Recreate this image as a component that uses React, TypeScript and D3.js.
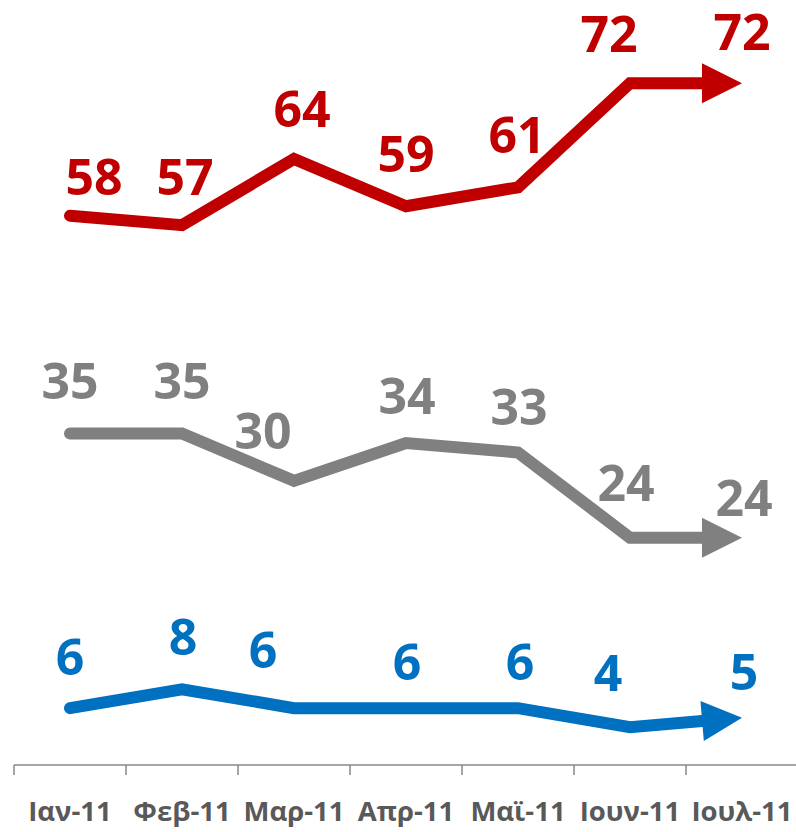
import React, { useMemo } from 'react';
import { scaleBand, scaleLinear, line } from 'd3';

const months = ['Ιαν-11', 'Φεβ-11', 'Μαρ-11', 'Απρ-11', 'Μαϊ-11', 'Ιουν-11', 'Ιουλ-11'];
const redValues = [58, 57, 64, 59, 61, 72, 72];
const greyValues = [35, 35, 30, 34, 33, 24, 24];
const blueValues = [6, 8, 6, 6, 6, 4, 5];

// label nudges (dx, dy of the baseline from the point)
const redNudge = [[24, -21], [3, -30], [8, -32], [0, -34], [-1, -34], [-21, -31], [0, -33]];
const greyNudge = [[0, -35], [0, -35], [-31, -32], [1, -29], [1, -27], [-4, -37], [2, -22]];
const blueNudge = [[0, -33], [1, -34], [-31, -40], [1, -28], [2, -28], [-22, -36], [2, -28]];

const series = [
    { name: 'red', values: redValues, nudge: redNudge, color: '#C00000' },
    { name: 'grey', values: greyValues, nudge: greyNudge, color: '#808080' },
    { name: 'blue', values: blueValues, nudge: blueNudge, color: '#0070C0' },
];

const width = 796;
const height = 832;
const font = '"Open Sans", sans-serif';

const App: React.FC = () => {
    const { x, y } = useMemo(() => {
        const x = scaleBand<string>().domain(months).range([14, 14 + 112 * months.length]);
        const y = scaleLinear().domain([0, 80]).range([765, 7.4]);
        return { x, y };
    }, []);

    const cx = (m: string) => (x(m) ?? 0) + x.bandwidth() / 2;
    const lineGen = line<[number, number]>();
    const arrowLen = 40;
    const arrowHalf = 20;

    return (
        <div style={{ position: 'absolute', left: 0, top: 0 }}>
            <svg width={width} height={height} style={{ display: 'block' }}>
                <rect width={width} height={height} fill="#fff" />

                {/* axis */}
                <g stroke="#898989" strokeWidth={1.5}>
                    <line x1={14} x2={width} y1={y(0)} y2={y(0)} />
                    {months.map(m => (
                        <line key={m} x1={x(m)} x2={x(m)} y1={y(0)} y2={y(0) + 10} />
                    ))}
                </g>
                <g fontFamily={font} fontWeight={700} fontSize={27.5} fill="#595959" textAnchor="middle">
                    {months.map(m => (
                        <text key={m} x={cx(m)} y={821}>{m}</text>
                    ))}
                </g>

                {series.map(s => {
                    const pts: [number, number][] = s.values.map((v, i) => [cx(months[i]), y(v)]);
                    const tip = pts[pts.length - 1];
                    const prev = pts[pts.length - 2];
                    const dx = tip[0] - prev[0];
                    const dy = tip[1] - prev[1];
                    const len = Math.hypot(dx, dy);
                    const ux = dx / len;
                    const uy = dy / len;
                    const base: [number, number] = [tip[0] - ux * arrowLen, tip[1] - uy * arrowLen];
                    const linePts = [...pts.slice(0, -1), base];
                    const tri = [
                        tip,
                        [base[0] - uy * arrowHalf, base[1] + ux * arrowHalf],
                        [base[0] + uy * arrowHalf, base[1] - ux * arrowHalf],
                    ];
                    return (
                        <g key={s.name}>
                            <path
                                d={lineGen(linePts) || ''}
                                fill="none"
                                stroke={s.color}
                                strokeWidth={12}
                                strokeLinecap="round"
                                strokeLinejoin="miter"
                            />
                            <polygon points={tri.map(p => p.join(',')).join(' ')} fill={s.color} />
                            <g fontFamily={font} fontWeight={700} fontSize={50} fill={s.color} textAnchor="middle">
                                {pts.map((p, i) => (
                                    <text key={i} x={p[0] + s.nudge[i][0]} y={p[1] + s.nudge[i][1]}>
                                        {s.values[i]}
                                    </text>
                                ))}
                            </g>
                        </g>
                    );
                })}
            </svg>
        </div>
    );
};

export default App;
